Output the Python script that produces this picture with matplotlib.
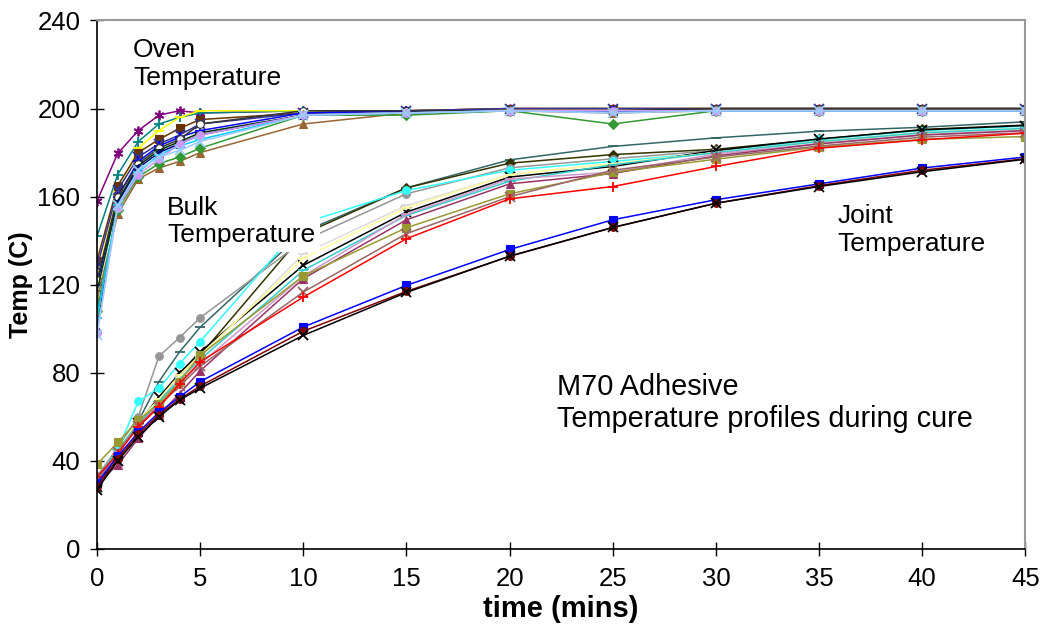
import matplotlib
matplotlib.use('Agg')
import matplotlib.pyplot as plt

plt.rcParams['font.family'] = ['Liberation Sans', 'DejaVu Sans']

# sample times (mins)
time_min = [0, 1, 2, 3, 4, 5, 10, 15, 20, 25, 30, 35, 40, 45]

# oven thermocouples
oven_1 = [158, 179.6, 190, 197, 199, 198, 199, 199, 200, 200, 200, 200, 200, 200]
oven_2 = [142, 170, 185, 193, 196, 198, 199, 199, 199, 199, 199, 199, 199, 199]
oven_3 = [123, 162, 182, 190, 196, 199, 199, 199, 200, 200, 200, 200, 200, 200]
oven_4 = [131, 165, 180, 186, 191, 195, 198, 199, 200, 200, 200, 200, 200, 200]
oven_5 = [128, 163, 178, 184, 188, 193, 198, 199, 200, 200, 200, 200, 200, 200]
oven_6 = [120, 160, 176, 183, 187, 190, 198, 199, 199, 199, 199, 199, 199, 199]
oven_7 = [122, 160, 175, 182, 186, 193, 199, 199, 199, 199, 200, 200, 200, 200]
oven_8 = [117, 158, 174, 181, 185, 189, 197, 198, 199, 199, 199, 199, 199, 199]
oven_9 = [100, 157, 173, 180, 184, 188, 197, 198, 199, 199, 199, 199, 199, 199]
oven_10 = [113, 152, 168, 173, 176, 180, 193, 198, 199, 198, 199, 199, 199, 199]
oven_11 = [108, 154, 169, 175, 178, 182, 197, 197, 199, 193, 199, 199, 199, 199]
oven_12 = [105, 156, 171, 179, 183, 186, 197, 198, 199, 199, 199, 199, 199, 199]
oven_13 = [98, 155, 170, 177, 184, 188, 197, 198, 199, 199, 199, 199, 199, 199]
oven_14 = [97, 156, 172, 178, 181, 185, 197, 198, 199, 198, 199, 199, 199, 199]

# bulk adhesive thermocouples
bulk_1 = [30, 44, 58, 76, 89.5, 100.7, 144, 164, 176.7, 182.8, 186.7, 189.7, 191.5, 194]
bulk_2 = [30, 44, 57, 67, 79, 88, 143, 164, 175.2, 179.1, 181.5, 186, 190.5, 192.5]
bulk_3 = [33, 46, 60, 87.5, 96, 105, 140, 161.3, 173.1, 177.2, 181, 185, 189, 191]
bulk_4 = [31, 45, 67, 73, 84.2, 94.2, 148, 162.8, 172, 176, 180, 186, 190, 192]
bulk_5 = [28, 43, 57, 69, 79.7, 89.5, 128.8, 153, 168.9, 173.7, 181, 186.2, 190.3, 192.3]
bulk_6 = [30, 44, 57, 68, 78, 87, 134, 156, 170, 175, 180, 185, 189, 191]
bulk_7 = [31, 45, 58, 68, 79, 88, 132, 155, 170, 175, 180, 185, 189, 191]
bulk_8 = [32, 45, 57, 67, 77, 86, 126.5, 151.5, 167, 174.5, 180, 185, 189, 191]
bulk_9 = [30, 44, 56, 66, 75, 84, 124, 152, 168, 171.1, 179.4, 184, 188, 190]
bulk_10 = [30, 38.1, 50.2, 60.8, 70.6, 80.9, 122.8, 149.5, 165.8, 170.5, 178.5, 184, 188, 190]
bulk_11 = [38.4, 48.4, 58.5, 66, 76, 88, 124, 145.9, 161.3, 171, 177, 182.5, 186, 187.3]
bulk_12 = [31, 44, 56, 65, 74, 83, 116.7, 143.2, 160, 172, 178, 183, 187, 189]
bulk_13 = [32.8, 43.1, 55.5, 64.5, 75.1, 85, 114.4, 140.9, 159, 164.6, 173.7, 182, 185.8, 188.8]

# joint thermocouples
joint_1 = [30, 42, 53, 62, 69, 76, 100.8, 119.7, 136, 149.5, 158.6, 165.8, 173, 178]
joint_2 = [28, 41, 52, 61, 68, 74, 98.9, 117, 132.9, 146, 157, 165, 172, 177.2]
joint_3 = [27, 40, 51, 60, 67.6, 73, 97, 116.5, 133, 146, 157, 164.6, 171.3, 177]

oven = [oven_1, oven_2, oven_3, oven_4, oven_5, oven_6, oven_7, oven_8,
        oven_9, oven_10, oven_11, oven_12, oven_13, oven_14]
bulk = [bulk_1, bulk_2, bulk_3, bulk_4, bulk_5, bulk_6, bulk_7, bulk_8,
        bulk_9, bulk_10, bulk_11, bulk_12, bulk_13]
joint = [joint_1, joint_2, joint_3]

# (line colour, marker, marker face) per thermocouple
oven_styles = [
    ('#800080', (6, 2, 0), '#800080'),
    ('#008080', '+', '#008080'),
    ('#FFFF00', '_', '#FFFF00'),
    ('#663300', 's', '#663300'),
    ('#333399', 'x', '#333399'),
    ('#0000FF', '+', '#0000FF'),
    ('#333333', 'o', 'white'),
    ('#003300', '_', '#003300'),
    ('#000080', '^', '#000080'),
    ('#996633', '^', '#996633'),
    ('#339933', 'D', '#339933'),
    ('#00CCFF', '_', '#00CCFF'),
    ('#CC99FF', 'o', '#CC99FF'),
    ('#99CCFF', 'x', '#99CCFF'),
]
bulk_styles = [
    ('#336666', '_', '#336666'),
    ('#333300', 'D', '#333300'),
    ('#969696', 'o', '#969696'),
    ('#33FFFF', 'o', '#33FFFF'),
    ('#000000', 'x', '#000000'),
    ('#DDDDDD', '_', '#DDDDDD'),
    ('#FFFF99', '_', '#FFFF99'),
    ('#33CCCC', '_', '#33CCCC'),
    ('#CC99CC', '_', '#CC99CC'),
    ('#993366', '^', '#993366'),
    ('#999933', 's', '#999933'),
    ('#996666', 'x', '#996666'),
    ('#FF0000', '+', '#FF0000'),
]
joint_styles = [
    ('#0000FF', 's', '#0000FF'),
    ('#800000', 'o', '#800000'),
    ('#000000', 'x', '#000000'),
]

fig = plt.figure(figsize=(10.41, 6.30), dpi=100)
ax = fig.add_axes([0.0932, 0.1286, 0.8918, 0.8389])

for series, styles in ((oven, oven_styles), (bulk, bulk_styles), (joint, joint_styles)):
    for values, (col, mk, face) in zip(series, styles):
        small = mk in ('+', 'x', '_', (6, 2, 0))
        ax.plot(time_min, values, color=col, lw=1.1, marker=mk,
                markersize=7 if small else 5.5, markerfacecolor=face,
                markeredgecolor=col, markeredgewidth=1.3 if small else 0.8)

ax.set_xlim(0, 45)
ax.set_ylim(0, 240)
ax.set_xticks(range(0, 46, 5))
ax.set_yticks(range(0, 241, 40))
ax.tick_params(direction='inout', length=10, width=1, labelsize=18.5,
               colors='black')
ax.tick_params(axis='x', pad=8)
ax.tick_params(axis='y', pad=7)
for side in ('left', 'bottom'):
    ax.spines[side].set_color('black')
    ax.spines[side].set_linewidth(1.2)
for side in ('top', 'right'):
    ax.spines[side].set_color('#999999')
    ax.spines[side].set_linewidth(1.5)

ax.set_xlabel('time (mins)', fontsize=21, fontweight='bold', labelpad=3)
ax.set_ylabel('Temp (C)', fontsize=18, fontweight='bold', labelpad=3)

txt = dict(fontsize=19, va='top', ha='left', color='black', zorder=10)
ax.text(1.75, 232, 'Oven\nTemperature', **txt)
ax.text(3.4, 160.5, 'Bulk\nTemperature',
        bbox=dict(facecolor='white', edgecolor='none', pad=3), **txt)
ax.text(35.9, 156.5, 'Joint\nTemperature', **txt)
ax.text(22.3, 80, 'M70 Adhesive\nTemperature profiles during cure',
        fontsize=20.8, va='top', ha='left', zorder=10)

fig.savefig('out.png', dpi=100)
